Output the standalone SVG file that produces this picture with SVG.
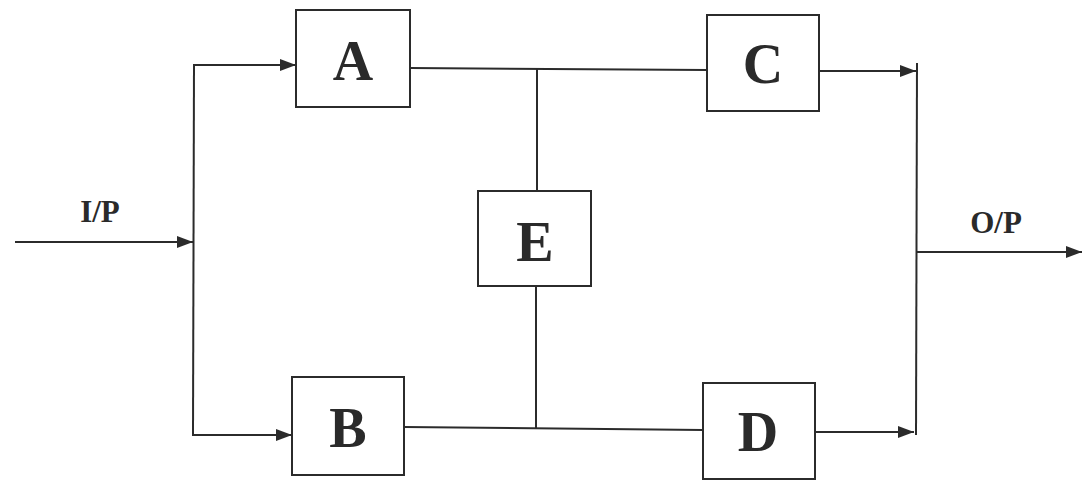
<svg xmlns="http://www.w3.org/2000/svg" width="1082" height="481" viewBox="0 0 1082 481">
<style>
.box{fill:#fff;stroke:#2b2b2b;stroke-width:2}
.lbl{font-family:"Liberation Serif","Times New Roman",serif;font-weight:bold;font-size:56px;fill:#2a2a2a;text-anchor:middle}
.io{font-family:"Liberation Serif","Times New Roman",serif;font-weight:bold;font-size:31px;fill:#2a2a2a;text-anchor:middle}
.ln{fill:none;stroke:#2b2b2b;stroke-width:2}
</style>
<defs>
<marker id="arr" viewBox="0 0 16 12" refX="16" refY="6" markerWidth="16" markerHeight="12" markerUnits="userSpaceOnUse" orient="auto">
<path d="M0,0 L16,6 L0,12 Z" fill="#2b2b2b"/>
</marker>
</defs>
<rect width="1082" height="481" fill="#fff"/>
<g id="connectors">
<line class="ln" x1="15" y1="242" x2="193" y2="242" marker-end="url(#arr)"/>
<line class="ln" x1="194" y1="64" x2="193" y2="436"/>
<line class="ln" x1="193" y1="65" x2="296" y2="65" marker-end="url(#arr)"/>
<line class="ln" x1="193" y1="435" x2="292" y2="435" marker-end="url(#arr)"/>
<line class="ln" x1="410" y1="68" x2="707" y2="70"/>
<line class="ln" x1="537" y1="68" x2="537" y2="191"/>
<line class="ln" x1="536" y1="286" x2="536" y2="428"/>
<line class="ln" x1="404" y1="427" x2="703" y2="430"/>
<line class="ln" x1="819" y1="71" x2="916" y2="71" marker-end="url(#arr)"/>
<line class="ln" x1="815" y1="432" x2="914" y2="432" marker-end="url(#arr)"/>
<line class="ln" x1="917" y1="63" x2="916" y2="435"/>
<line class="ln" x1="917" y1="252" x2="1082" y2="252" marker-end="url(#arr)"/>
</g>
<g id="node-A"><rect class="box" x="296" y="10" width="114" height="97"/><text class="lbl" x="353" y="80">A</text></g>
<g id="node-C"><rect class="box" x="707" y="15" width="112" height="96"/><text class="lbl" x="763" y="83">C</text></g>
<g id="node-E"><rect class="box" x="478" y="191" width="113" height="95"/><text class="lbl" x="535" y="261">E</text></g>
<g id="node-B"><rect class="box" x="292" y="377" width="112" height="98"/><text class="lbl" x="348" y="447">B</text></g>
<g id="node-D"><rect class="box" x="703" y="383" width="112" height="96"/><text class="lbl" x="758" y="451">D</text></g>
<g id="labels">
<text class="io" x="100" y="222">I/P</text>
<text class="io" x="996" y="233">O/P</text>
</g>
</svg>
